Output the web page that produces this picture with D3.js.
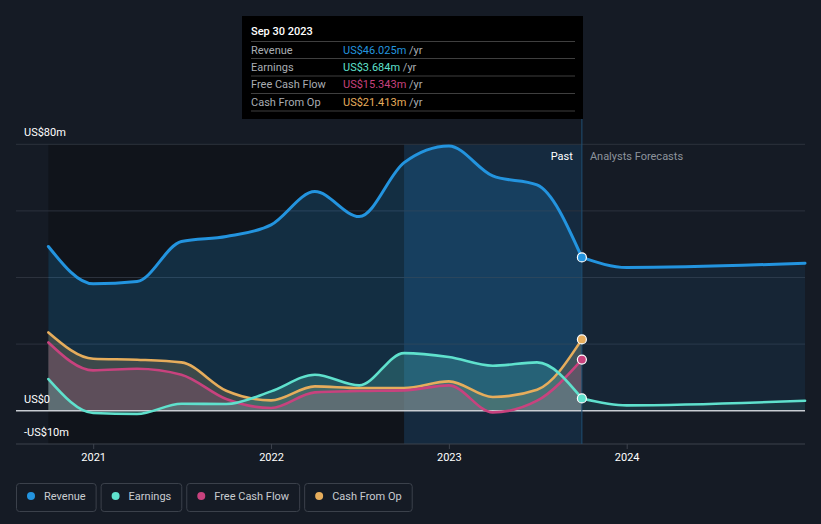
<!DOCTYPE html>
<html lang="en">
<head>
<meta charset="UTF-8">
<title>Revenue, earnings and cash flow</title>
<style>
  body { margin: 0; background: #151b25; font-family: Roboto, "Noto Sans", sans-serif; }
  svg { display: block; }
</style>
</head>
<body>
<svg id="chart" width="821" height="524"></svg>
<script src="https://d3js.org/d3.v7.min.js"></script>
<script>
// quarterly history, then analyst forecasts
const pastDates = ["2020-09-30","2020-12-31","2021-03-31","2021-06-30","2021-09-30","2021-12-31",
  "2022-03-31","2022-06-30","2022-09-30","2022-12-31","2023-03-31","2023-06-30","2023-09-30"];
const forecastDates = ["2023-09-30","2023-12-31","2024-12-31"];

const revenue = [49.3, 38.1, 38.8, 50.8, 52.3, 55.8, 65.8, 58.3, 74.5, 79.5, 70.5, 67.8, 46.025];
const earnings = [9.5, -0.7, -1.0, 2.1, 2.0, 5.8, 10.8, 7.6, 17.3, 16.1, 13.5, 14.5, 3.684];
const freeCashFlow = [20.5, 12.1, 12.6, 10.8, 3.5, 0.8, 5.5, 5.9, 6.1, 7.6, -0.5, 3.0, 15.343];
const cashFromOp = [23.5, 15.6, 15.3, 14.5, 6.0, 3.1, 7.3, 6.8, 6.8, 8.8, 4.1, 6.3, 21.413];

const revenueForecast = [46.025, 43.0, 44.3];
const earningsForecast = [3.684, 1.6, 3.0];

const yTicks = [-10, 0, 20, 40, 60, 80];
const yLabels = {80: "US$80m", 0: "US$0", "-10": "-US$10m"};
const xTicks = ["2021-01-01","2022-01-01","2023-01-01","2024-01-01"];

const colors = {
  Revenue: "#2394df",
  Earnings: "#5fe1cd",
  "Free Cash Flow": "#c8427e",
  "Cash From Op": "#e6ad5c"
};

const parse = d3.timeParse("%Y-%m-%d");
const svg = d3.select("#chart");

const x = d3.scaleTime()
  .domain([parse("2021-01-01"), parse("2024-01-01")])
  .range([93.7, 627.2]);
const y = d3.scaleLinear().domain([-10, 80]).range([444, 144.3]);

const left = 16, right = 805;
const pastStart = parse(pastDates[0]);
const lastYearStart = parse("2022-09-30");
const nowDate = parse("2023-09-30");

// darker history band and highlighted last year
svg.append("rect").attr("x", x(pastStart)).attr("y", 144).attr("width", x(lastYearStart) - x(pastStart))
  .attr("height", 300).attr("fill", "#10141b");
svg.append("rect").attr("x", x(lastYearStart)).attr("y", 144).attr("width", x(nowDate) - x(lastYearStart))
  .attr("height", 300).attr("fill", "#16304a").attr("opacity", 0.7);

// grid
svg.append("g").selectAll("line").data(yTicks.filter(d => d > 0)).join("line")
  .attr("x1", left).attr("x2", right)
  .attr("y1", d => y(d)).attr("y2", d => y(d))
  .attr("stroke", "#2c323d").attr("stroke-width", 1);

const toPts = (dates, vals) => dates.map((d, i) => ({date: parse(d), v: vals[i]}));
const line = d3.line().x(d => x(d.date)).y(d => y(d.v)).curve(d3.curveMonotoneX);
const area = d3.area().x(d => x(d.date)).y0(y(0)).y1(d => y(d.v)).curve(d3.curveMonotoneX);

const revPts = toPts(pastDates, revenue);
const earnPts = toPts(pastDates, earnings);
const fcfPts = toPts(pastDates, freeCashFlow);
const cfoPts = toPts(pastDates, cashFromOp);
const revF = toPts(forecastDates, revenueForecast);
const earnF = toPts(forecastDates, earningsForecast);

// areas
svg.append("path").attr("d", area(revF)).attr("fill", colors.Revenue).attr("opacity", 0.09);
svg.append("path").attr("d", area(earnF)).attr("fill", colors.Earnings).attr("opacity", 0.08);
svg.append("path").attr("d", area(revPts)).attr("fill", colors.Revenue).attr("opacity", 0.2);
svg.append("path").attr("d", area(cfoPts)).attr("fill", "#8a7a5a").attr("opacity", 0.35);
svg.append("path").attr("d", area(fcfPts)).attr("fill", "#9a5a78").attr("opacity", 0.35);
svg.append("path").attr("d", area(earnPts)).attr("fill", colors.Earnings).attr("opacity", 0.22);

// zero line and bottom axis
svg.append("line").attr("x1", left).attr("x2", right).attr("y1", y(0)).attr("y2", y(0))
  .attr("stroke", "#c8ccd2").attr("stroke-width", 1.5);
svg.append("line").attr("x1", left).attr("x2", right).attr("y1", y(-10)).attr("y2", y(-10))
  .attr("stroke", "#3d434d").attr("stroke-width", 1);

// lines
const lines = [
  [revF, colors.Revenue, 3], [earnF, colors.Earnings, 2.6],
  [cfoPts, colors["Cash From Op"], 2.6], [fcfPts, colors["Free Cash Flow"], 2.6],
  [earnPts, colors.Earnings, 2.6], [revPts, colors.Revenue, 3]
];
lines.forEach(([pts, c, w]) => {
  svg.append("path").attr("d", line(pts)).attr("fill", "none")
    .attr("stroke", c).attr("stroke-width", w).attr("stroke-linecap", "round");
});

// now line
svg.append("line").attr("x1", x(nowDate)).attr("x2", x(nowDate)).attr("y1", 119).attr("y2", 444)
  .attr("stroke", "#1f4f73").attr("stroke-width", 1);

// markers at the last reported point
[[revenue, colors.Revenue], [cashFromOp, colors["Cash From Op"]],
 [freeCashFlow, colors["Free Cash Flow"]], [earnings, colors.Earnings]].forEach(([vals, c]) => {
  svg.append("circle").attr("cx", x(nowDate)).attr("cy", y(vals[vals.length - 1])).attr("r", 4.5)
    .attr("fill", c).attr("stroke", "#fff").attr("stroke-width", 1.2);
});

// y labels
svg.append("g").selectAll("text").data(yTicks.filter(d => yLabels[d] !== undefined)).join("text")
  .attr("x", 24).attr("y", d => y(d) - 8)
  .attr("fill", "#ffffff").attr("font-size", 11).text(d => yLabels[d]);

// x ticks
const xg = svg.append("g");
xTicks.forEach(t => {
  const px = x(parse(t));
  xg.append("line").attr("x1", px).attr("x2", px).attr("y1", 444).attr("y2", 449).attr("stroke", "#3d434d");
  xg.append("text").attr("x", px).attr("y", 461).attr("text-anchor", "middle")
    .attr("fill", "#ffffff").attr("font-size", 11).text(t.slice(0, 4));
});

// past / forecast labels
svg.append("text").attr("x", x(nowDate) - 9).attr("y", 160).attr("text-anchor", "end")
  .attr("fill", "#ffffff").attr("font-size", 11).text("Past");
svg.append("text").attr("x", x(nowDate) + 8).attr("y", 160)
  .attr("fill", "#8d939c").attr("font-size", 11).text("Analysts Forecasts");

// tooltip
const tip = svg.append("g");
tip.append("rect").attr("x", 242).attr("y", 16).attr("width", 341).attr("height", 103).attr("fill", "#000");
tip.append("text").attr("x", 251).attr("y", 35).attr("fill", "#fff").attr("font-size", 11)
  .attr("font-weight", 500).text("Sep 30 2023");
const tipRows = [
  ["Revenue", "US$46.025m", colors.Revenue],
  ["Earnings", "US$3.684m", colors.Earnings],
  ["Free Cash Flow", "US$15.343m", colors["Free Cash Flow"]],
  ["Cash From Op", "US$21.413m", colors["Cash From Op"]]
];
const rowY = [41.5, 58.5, 76, 93.5, 111];
rowY.forEach(ry => tip.append("line").attr("x1", 251).attr("x2", 575).attr("y1", ry).attr("y2", ry)
  .attr("stroke", "#3f3f3f"));
tipRows.forEach(([lab, val, c], i) => {
  const ty = rowY[i] + 12;
  tip.append("text").attr("x", 251).attr("y", ty).attr("fill", "#a9adb3").attr("font-size", 11).text(lab);
  const t = tip.append("text").attr("x", 343).attr("y", ty).attr("font-size", 11);
  t.append("tspan").attr("fill", c).text(val);
  t.append("tspan").attr("fill", "#a9adb3").text(" /yr");
});

// legend
const legendItems = ["Revenue", "Earnings", "Free Cash Flow", "Cash From Op"];
let lx = 16;
legendItems.forEach(name => {
  const g = svg.append("g").attr("transform", `translate(${lx},483)`);
  const txt = g.append("text").attr("x", 28).attr("y", 17).attr("fill", "#c9ccd1")
    .attr("font-size", 11).text(name);
  const w = txt.node().getComputedTextLength() + 38;
  g.insert("rect", "text").attr("x", 0.5).attr("y", 0.5).attr("width", w).attr("height", 28)
    .attr("rx", 3).attr("fill", "none").attr("stroke", "#3b414b");
  g.append("circle").attr("cx", 15).attr("cy", 13).attr("r", 4).attr("fill", colors[name]);
  lx += w + 5;
});
</script>
</body>
</html>
